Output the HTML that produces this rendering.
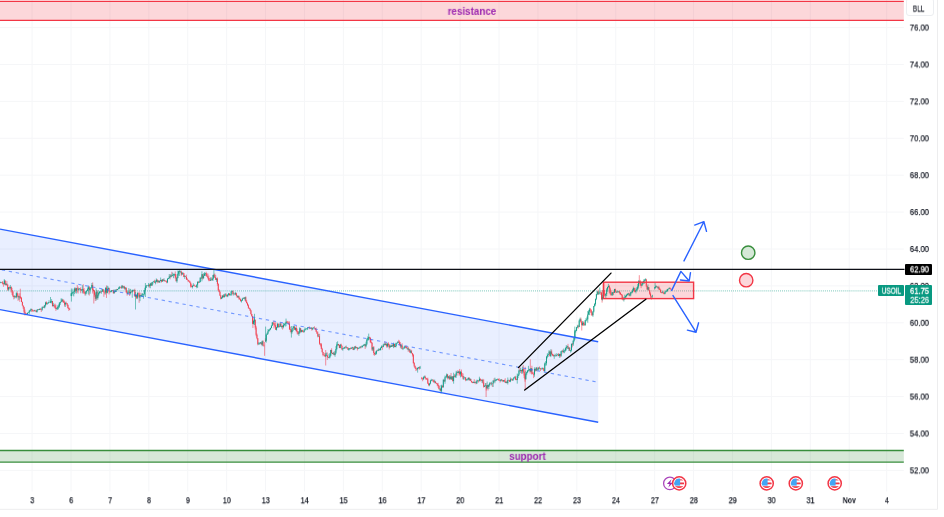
<!DOCTYPE html><html><head><meta charset="utf-8"><title>USOIL chart</title><style>
html,body{margin:0;padding:0;background:#fff;}
body{width:944px;height:517px;position:relative;overflow:hidden;font-family:"Liberation Sans",sans-serif;}
.t{position:absolute;left:0;top:0;white-space:nowrap;line-height:1;transform-origin:0 0;will-change:transform;}
.box{position:absolute;border-radius:1px;}
</style></head><body>
<svg width="944" height="517" viewBox="0 0 944 517" style="position:absolute;left:0;top:0">
<line x1="32.10" y1="0" x2="32.10" y2="491.5" stroke="#f5f6f8" stroke-width="1"/>
<line x1="71.01" y1="0" x2="71.01" y2="491.5" stroke="#f5f6f8" stroke-width="1"/>
<line x1="109.92" y1="0" x2="109.92" y2="491.5" stroke="#f5f6f8" stroke-width="1"/>
<line x1="148.83" y1="0" x2="148.83" y2="491.5" stroke="#f5f6f8" stroke-width="1"/>
<line x1="187.74" y1="0" x2="187.74" y2="491.5" stroke="#f5f6f8" stroke-width="1"/>
<line x1="226.65" y1="0" x2="226.65" y2="491.5" stroke="#f5f6f8" stroke-width="1"/>
<line x1="265.56" y1="0" x2="265.56" y2="491.5" stroke="#f5f6f8" stroke-width="1"/>
<line x1="304.47" y1="0" x2="304.47" y2="491.5" stroke="#f5f6f8" stroke-width="1"/>
<line x1="343.38" y1="0" x2="343.38" y2="491.5" stroke="#f5f6f8" stroke-width="1"/>
<line x1="382.29" y1="0" x2="382.29" y2="491.5" stroke="#f5f6f8" stroke-width="1"/>
<line x1="421.20" y1="0" x2="421.20" y2="491.5" stroke="#f5f6f8" stroke-width="1"/>
<line x1="460.11" y1="0" x2="460.11" y2="491.5" stroke="#f5f6f8" stroke-width="1"/>
<line x1="499.02" y1="0" x2="499.02" y2="491.5" stroke="#f5f6f8" stroke-width="1"/>
<line x1="537.93" y1="0" x2="537.93" y2="491.5" stroke="#f5f6f8" stroke-width="1"/>
<line x1="576.84" y1="0" x2="576.84" y2="491.5" stroke="#f5f6f8" stroke-width="1"/>
<line x1="615.75" y1="0" x2="615.75" y2="491.5" stroke="#f5f6f8" stroke-width="1"/>
<line x1="654.66" y1="0" x2="654.66" y2="491.5" stroke="#f5f6f8" stroke-width="1"/>
<line x1="693.57" y1="0" x2="693.57" y2="491.5" stroke="#f5f6f8" stroke-width="1"/>
<line x1="732.48" y1="0" x2="732.48" y2="491.5" stroke="#f5f6f8" stroke-width="1"/>
<line x1="771.39" y1="0" x2="771.39" y2="491.5" stroke="#f5f6f8" stroke-width="1"/>
<line x1="810.30" y1="0" x2="810.30" y2="491.5" stroke="#f5f6f8" stroke-width="1"/>
<line x1="849.21" y1="0" x2="849.21" y2="491.5" stroke="#f5f6f8" stroke-width="1"/>
<line x1="886.70" y1="0" x2="886.70" y2="491.5" stroke="#f5f6f8" stroke-width="1"/>
<line x1="0" y1="470.40" x2="903.8" y2="470.40" stroke="#f5f6f8" stroke-width="1"/>
<line x1="0" y1="433.50" x2="903.8" y2="433.50" stroke="#f5f6f8" stroke-width="1"/>
<line x1="0" y1="396.60" x2="903.8" y2="396.60" stroke="#f5f6f8" stroke-width="1"/>
<line x1="0" y1="359.70" x2="903.8" y2="359.70" stroke="#f5f6f8" stroke-width="1"/>
<line x1="0" y1="322.80" x2="903.8" y2="322.80" stroke="#f5f6f8" stroke-width="1"/>
<line x1="0" y1="285.90" x2="903.8" y2="285.90" stroke="#f5f6f8" stroke-width="1"/>
<line x1="0" y1="249.00" x2="903.8" y2="249.00" stroke="#f5f6f8" stroke-width="1"/>
<line x1="0" y1="212.10" x2="903.8" y2="212.10" stroke="#f5f6f8" stroke-width="1"/>
<line x1="0" y1="175.20" x2="903.8" y2="175.20" stroke="#f5f6f8" stroke-width="1"/>
<line x1="0" y1="138.30" x2="903.8" y2="138.30" stroke="#f5f6f8" stroke-width="1"/>
<line x1="0" y1="101.40" x2="903.8" y2="101.40" stroke="#f5f6f8" stroke-width="1"/>
<line x1="0" y1="64.50" x2="903.8" y2="64.50" stroke="#f5f6f8" stroke-width="1"/>
<line x1="0" y1="27.60" x2="903.8" y2="27.60" stroke="#f5f6f8" stroke-width="1"/>
<rect x="-2" y="1.4" width="905.8" height="18.9" fill="#f23645" fill-opacity="0.2"/>
<line x1="0" y1="1.4" x2="903.8" y2="1.4" stroke="#f23645" stroke-width="1.3"/>
<line x1="0" y1="20.3" x2="903.8" y2="20.3" stroke="#f23645" stroke-width="1.3"/>
<rect x="-2" y="450.5" width="905.8" height="11.6" fill="#388e3c" fill-opacity="0.2"/>
<line x1="0" y1="450.5" x2="903.8" y2="450.5" stroke="#388e3c" stroke-width="1.4"/>
<line x1="0" y1="462.1" x2="903.8" y2="462.1" stroke="#388e3c" stroke-width="1.4"/>
<polygon points="0,229.1 598.2,341.74 598.2,422.24 0,309.6" fill="#2962ff" fill-opacity="0.1"/>
<line x1="0" y1="290.8" x2="878" y2="290.8" stroke="#089981" stroke-width="1.3" stroke-dasharray="0.9 1.06" stroke-opacity="0.46"/>
<rect x="603.4" y="282.2" width="90.2" height="16.4" fill="#f23645" fill-opacity="0.2"/>
<path d="M1.72 282.14V283.21M2.58 281.12V284.47M3.44 282.73V286.78M5.16 280.50V285.53M6.88 280.93V285.94M7.74 283.94V290.88M9.46 286.55V289.42M11.18 286.33V292.61M12.04 287.86V294.89M12.90 291.28V297.09M13.76 295.60V299.40M15.48 295.92V297.55M17.20 291.21V297.12M18.06 293.28V300.82M19.78 293.23V301.87M20.64 296.34V298.17M21.50 296.99V302.13M22.36 301.49V305.68M23.22 305.55V308.88M24.08 306.68V313.89M24.94 309.52V315.52M25.80 312.93V314.86M26.66 313.37V314.60M31.82 308.86V311.93M32.68 309.56V311.63M33.54 310.23V311.35M35.26 309.86V311.33M36.12 310.61V312.22M38.70 309.03V309.94M40.42 308.11V309.74M41.28 308.65V312.03M43.86 305.69V307.83M46.44 301.41V304.35M49.88 301.82V302.48M52.46 300.94V306.62M54.18 304.21V307.67M55.04 303.57V308.57M55.90 304.72V310.90M62.78 299.49V302.38M63.64 299.57V302.65M64.50 300.63V306.60M66.22 301.63V304.12M67.08 303.05V306.15M67.94 304.71V308.30M68.80 307.43V310.94M69.66 307.80V309.99M75.50 287.64V292.74M77.22 284.91V292.56M78.08 286.66V293.54M79.80 288.27V288.98M80.66 287.24V293.28M83.24 284.22V293.68M84.10 288.05V293.39M84.96 291.35V295.59M89.26 286.03V295.54M92.70 282.39V293.54M93.56 288.59V291.51M94.42 290.13V296.72M95.28 292.69V301.03M97.00 290.09V299.79M100.44 291.39V292.85M103.02 289.37V292.11M103.88 289.24V296.77M104.74 291.27V294.49M106.46 285.49V297.95M109.04 287.64V294.46M109.90 291.45V293.12M112.48 290.23V290.92M113.34 289.76V293.53M115.06 290.83V292.51M116.78 288.90V290.41M120.22 286.71V287.61M121.08 286.43V288.83M122.80 285.46V288.24M124.52 285.87V289.47M126.24 287.51V292.83M127.10 290.92V295.67M129.68 289.33V296.00M131.40 291.09V292.45M133.12 289.83V291.69M134.84 288.68V296.47M136.56 294.39V299.09M138.28 292.74V296.48M139.14 291.63V302.79M140.86 292.75V296.22M147.74 285.37V285.83M149.46 284.26V287.56M151.18 282.90V285.92M154.62 279.73V283.01M157.20 279.28V283.31M158.92 280.24V283.00M161.50 279.66V282.52M163.22 278.73V281.31M164.94 280.19V281.56M165.80 280.86V281.65M166.66 280.45V283.24M170.10 274.34V279.34M171.82 271.78V276.94M175.26 271.45V278.64M176.12 274.23V281.34M179.56 271.09V272.05M181.28 270.61V276.09M183.00 272.49V274.17M183.86 273.19V277.13M185.58 275.95V277.07M186.44 274.68V279.76M187.30 278.19V279.95M188.16 279.61V282.05M189.02 280.24V281.61M189.88 280.78V283.23M190.74 282.64V287.63M191.60 284.27V287.24M194.18 284.15V286.37M195.04 285.55V286.67M195.90 285.92V287.00M198.48 281.48V283.21M201.06 276.82V278.62M202.78 273.96V279.59M206.22 271.75V276.08M207.08 273.42V277.02M207.94 273.52V279.34M208.80 275.57V281.22M209.66 278.12V281.07M211.38 277.28V280.28M213.96 274.02V277.83M214.82 273.53V277.51M215.68 274.91V280.02M217.40 277.44V285.71M218.26 283.14V290.77M219.12 289.17V292.35M219.98 290.73V296.00M220.84 295.31V299.49M223.42 294.30V297.59M226.00 293.36V296.19M226.86 294.81V296.91M229.44 293.38V295.36M232.88 290.61V295.35M234.60 293.40V294.56M236.32 292.68V296.05M237.18 295.46V297.98M238.90 295.62V299.63M239.76 297.50V299.66M240.62 298.80V301.27M244.06 297.41V299.11M245.78 296.37V301.49M246.64 299.95V303.31M247.50 302.42V305.75M248.36 304.22V308.59M249.22 307.67V309.01M250.08 308.41V310.90M250.94 309.85V314.62M251.80 313.93V316.57M252.66 315.89V324.08M255.24 319.64V329.59M256.10 325.79V336.24M256.96 333.56V339.28M257.82 338.16V345.29M261.26 342.19V344.58M262.98 340.29V346.04M263.84 344.70V346.69M265.40 338.30V341.68M273.14 322.50V324.06M274.00 320.69V328.39M274.86 322.63V326.79M275.72 322.26V329.97M278.30 323.13V327.80M280.88 322.47V326.87M282.60 324.79V329.57M286.90 320.87V323.09M287.76 321.09V323.38M288.62 321.57V324.63M289.48 321.38V329.99M290.34 326.70V332.15M291.20 328.97V333.42M294.64 326.39V329.80M296.36 326.01V332.24M297.22 328.63V334.24M298.08 331.40V334.79M300.66 328.24V332.44M302.38 329.82V331.82M303.24 331.00V332.36M309.26 326.34V329.24M310.12 327.90V328.73M311.84 327.21V330.67M314.42 326.26V328.38M315.28 328.24V329.98M316.14 327.47V331.72M317.00 331.18V333.88M317.86 331.65V337.38M319.58 333.79V344.91M320.44 343.34V346.46M321.30 342.99V349.18M322.16 347.81V352.57M323.02 351.89V356.39M323.88 354.39V355.40M324.74 352.91V356.97M327.32 352.46V359.96M328.18 356.72V357.92M331.62 348.25V353.55M332.48 352.79V354.05M334.20 351.40V355.45M338.50 343.97V345.86M339.36 344.79V348.14M341.08 343.63V345.99M341.94 345.36V350.06M345.38 345.98V348.35M347.10 347.12V348.22M347.96 347.18V349.68M350.54 347.46V349.25M353.12 346.87V350.07M355.70 345.77V348.43M357.42 347.25V350.49M360.86 345.97V348.51M365.16 344.02V349.03M369.46 336.74V339.35M370.32 336.95V343.04M371.18 339.16V343.50M372.04 342.42V350.84M373.76 346.00V355.19M374.62 352.50V355.75M377.20 349.80V351.42M379.78 348.92V350.18M382.36 346.31V349.84M384.94 341.52V345.78M386.66 343.55V347.62M388.38 342.24V346.88M389.24 343.84V349.44M390.96 345.67V347.00M392.68 344.05V346.48M394.40 343.73V347.37M398.70 339.79V342.79M399.56 340.64V345.50M400.42 342.10V348.15M402.14 343.28V349.40M405.58 346.07V348.07M406.44 345.71V348.24M408.16 346.65V351.75M409.88 349.18V352.62M411.60 349.80V353.35M412.46 352.94V356.52M413.32 353.89V363.73M414.18 362.08V367.26M415.04 365.70V368.64M415.90 367.32V371.07M416.76 368.38V370.43M419.34 366.43V369.64M421.80 376.97V379.55M422.66 377.91V381.24M425.24 375.58V379.31M426.10 377.72V380.06M426.96 378.18V379.86M427.82 377.67V383.89M428.68 382.74V386.18M432.98 379.21V381.92M433.84 380.17V382.96M435.56 381.43V383.45M436.42 382.63V383.98M437.28 383.29V386.24M438.14 382.84V387.89M439.00 385.03V389.32M440.72 388.31V391.25M442.44 385.16V387.63M444.16 379.39V381.66M447.60 374.04V379.40M449.32 375.09V380.04M451.04 372.97V379.82M452.76 376.07V381.63M454.48 374.27V377.35M457.92 369.98V375.59M459.64 368.95V375.67M461.36 369.54V376.91M462.22 372.94V376.99M463.08 373.50V379.52M465.66 377.32V381.21M469.10 377.28V380.98M470.82 378.76V381.25M471.68 381.01V383.01M472.54 381.88V383.16M474.26 379.23V383.48M475.98 380.56V384.31M478.56 380.11V382.56M480.28 378.52V381.52M481.14 379.17V380.98M482.86 378.84V383.64M483.72 379.33V387.72M486.30 385.14V390.57M488.02 384.92V390.50M490.60 382.39V384.11M492.32 383.00V386.93M494.04 378.34V382.36M498.34 378.72V380.76M499.20 378.21V380.59M500.06 380.27V382.60M501.78 379.23V380.61M502.64 380.31V382.11M504.36 379.69V381.72M505.22 378.29V382.93M506.94 380.50V383.41M508.66 379.65V380.73M509.52 380.29V381.97M511.24 378.07V380.27M512.10 379.47V380.74M515.54 375.82V380.13M516.40 378.75V380.24M519.84 366.70V371.85M521.56 369.86V373.75M523.28 365.08V373.15M524.14 368.95V378.09M525.00 373.93V381.70M530.16 368.92V373.57M531.88 365.75V374.73M532.74 371.86V374.05M533.60 372.49V378.11M535.32 368.52V371.54M537.04 366.91V371.15M539.62 366.40V369.15M540.48 368.04V371.08M543.06 367.84V369.60M543.92 367.76V371.24M549.94 351.08V356.55M551.66 349.57V354.62M552.52 353.61V356.06M553.38 354.18V356.78M555.96 354.38V356.26M558.54 353.08V356.14M560.26 353.76V357.53M562.84 349.58V353.42M568.00 343.87V348.78M569.72 347.32V350.76M572.30 343.19V347.40M578.32 324.83V328.58M580.90 317.59V322.70M581.76 320.76V330.51M583.48 321.44V325.82M584.34 322.43V325.69M590.36 307.97V312.67M591.22 309.20V315.32M592.08 312.55V315.91M598.10 289.51V295.02M600.68 291.45V294.92M601.54 292.08V299.78M604.12 289.98V296.04M604.98 293.69V296.65M609.28 284.98V293.40M610.14 287.34V294.37M611.00 290.46V295.95M613.58 291.43V295.00M615.30 288.63V292.45M616.16 291.68V292.95M617.88 291.31V292.47M619.60 290.65V294.42M620.46 292.31V294.89M621.32 293.80V295.47M622.18 294.29V299.95M623.04 297.15V300.57M629.06 292.66V295.86M634.22 287.59V292.27M635.08 289.40V292.18M640.24 279.92V285.94M641.10 282.59V288.14M646.26 278.80V287.15M647.12 285.77V289.73M648.84 287.06V290.47M649.70 290.16V294.84M650.56 292.41V298.26M651.42 296.10V299.55M657.18 286.30V287.45M658.90 285.81V290.04M659.76 287.92V290.04M660.62 289.49V292.92M661.48 292.15V293.31M663.20 291.14V293.62M664.06 293.15V294.33M670.08 287.34V289.40M670.94 288.63V289.62M20.30 288.70V299.00M93.80 290.00V303.50M252.90 318.00V328.00M264.60 342.00V355.80M325.70 350.00V365.50M486.10 383.00V397.00M525.20 366.80V389.60M530.30 359.30V372.00M602.10 290.00V302.60M604.00 282.90V294.00M639.30 275.20V284.00" stroke="#f23645" stroke-width="0.55" fill="none"/>
<path d="M1.29 282.17h0.86V282.62h-0.86zM2.15 282.62h0.86V283.51h-0.86zM3.01 283.51h0.86V283.91h-0.86zM4.73 280.58h0.86V284.65h-0.86zM6.45 283.85h0.86V284.99h-0.86zM7.31 284.99h0.86V289.62h-0.86zM9.03 287.31h0.86V287.79h-0.86zM10.75 287.05h0.86V290.08h-0.86zM11.61 290.08h0.86V291.46h-0.86zM12.47 291.46h0.86V295.70h-0.86zM13.33 295.70h0.86V296.91h-0.86zM15.05 296.53h0.86V297.35h-0.86zM16.77 293.36h0.86V295.47h-0.86zM17.63 295.47h0.86V297.37h-0.86zM19.35 296.46h0.86V297.59h-0.86zM20.21 297.59h0.86V297.99h-0.86zM21.07 297.99h0.86V301.88h-0.86zM21.93 301.88h0.86V305.57h-0.86zM22.79 305.57h0.86V307.19h-0.86zM23.65 307.19h0.86V311.85h-0.86zM24.51 311.85h0.86V313.41h-0.86zM25.37 313.41h0.86V313.81h-0.86zM26.23 313.81h0.86V314.48h-0.86zM31.39 309.16h0.86V310.33h-0.86zM32.25 310.33h0.86V310.73h-0.86zM33.11 310.73h0.86V311.13h-0.86zM34.83 310.47h0.86V310.87h-0.86zM35.69 310.87h0.86V311.88h-0.86zM38.27 309.35h0.86V309.75h-0.86zM39.99 309.05h0.86V309.45h-0.86zM40.85 309.45h0.86V309.85h-0.86zM43.43 307.05h0.86V307.55h-0.86zM46.01 302.60h0.86V304.21h-0.86zM49.45 301.97h0.86V302.37h-0.86zM52.03 301.10h0.86V306.10h-0.86zM53.75 305.20h0.86V305.60h-0.86zM54.61 305.60h0.86V307.28h-0.86zM55.47 307.28h0.86V309.07h-0.86zM62.35 299.50h0.86V301.30h-0.86zM63.21 301.30h0.86V302.57h-0.86zM64.07 302.57h0.86V304.50h-0.86zM65.79 302.96h0.86V303.36h-0.86zM66.65 303.36h0.86V304.76h-0.86zM67.51 304.76h0.86V308.19h-0.86zM68.37 308.19h0.86V308.88h-0.86zM69.23 308.88h0.86V309.59h-0.86zM75.07 288.41h0.86V290.68h-0.86zM76.79 288.32h0.86V289.21h-0.86zM77.65 289.21h0.86V289.95h-0.86zM79.37 288.55h0.86V288.94h-0.86zM80.23 288.94h0.86V290.22h-0.86zM82.81 289.06h0.86V291.83h-0.86zM83.67 291.83h0.86V293.15h-0.86zM84.53 293.15h0.86V293.78h-0.86zM88.83 287.31h0.86V290.36h-0.86zM92.27 285.04h0.86V289.92h-0.86zM93.13 289.92h0.86V290.92h-0.86zM93.99 290.92h0.86V294.77h-0.86zM94.85 294.77h0.86V298.64h-0.86zM96.57 291.71h0.86V298.04h-0.86zM100.01 291.81h0.86V292.21h-0.86zM102.59 289.37h0.86V291.76h-0.86zM103.45 291.76h0.86V292.16h-0.86zM104.31 292.16h0.86V292.56h-0.86zM106.03 287.66h0.86V292.69h-0.86zM108.61 288.00h0.86V291.49h-0.86zM109.47 291.49h0.86V291.93h-0.86zM112.05 290.35h0.86V290.75h-0.86zM112.91 290.75h0.86V293.36h-0.86zM114.63 291.50h0.86V291.90h-0.86zM116.35 289.58h0.86V289.98h-0.86zM119.79 287.16h0.86V287.56h-0.86zM120.65 287.56h0.86V287.96h-0.86zM122.37 285.86h0.86V287.30h-0.86zM124.09 286.81h0.86V288.52h-0.86zM125.81 287.72h0.86V292.23h-0.86zM126.67 292.23h0.86V293.48h-0.86zM129.25 291.69h0.86V293.13h-0.86zM130.97 291.88h0.86V292.28h-0.86zM132.69 289.91h0.86V290.31h-0.86zM134.41 289.91h0.86V296.40h-0.86zM136.13 294.98h0.86V297.65h-0.86zM137.85 292.97h0.86V293.37h-0.86zM138.71 293.37h0.86V297.54h-0.86zM140.43 294.89h0.86V295.79h-0.86zM147.31 285.40h0.86V285.78h-0.86zM149.03 284.71h0.86V285.68h-0.86zM150.75 283.62h0.86V285.47h-0.86zM154.19 281.53h0.86V282.50h-0.86zM156.77 279.72h0.86V281.87h-0.86zM158.49 280.87h0.86V282.30h-0.86zM161.07 280.02h0.86V281.42h-0.86zM162.79 279.61h0.86V280.73h-0.86zM164.51 280.33h0.86V281.19h-0.86zM165.37 281.19h0.86V281.59h-0.86zM166.23 281.59h0.86V282.27h-0.86zM169.67 276.39h0.86V277.16h-0.86zM171.39 275.29h0.86V275.70h-0.86zM174.83 273.96h0.86V277.40h-0.86zM175.69 277.40h0.86V281.33h-0.86zM179.13 271.22h0.86V271.83h-0.86zM180.85 271.43h0.86V274.57h-0.86zM182.57 272.79h0.86V273.36h-0.86zM183.43 273.36h0.86V277.00h-0.86zM185.15 276.60h0.86V276.96h-0.86zM186.01 276.96h0.86V279.54h-0.86zM186.87 279.54h0.86V279.94h-0.86zM187.73 279.94h0.86V281.03h-0.86zM188.59 281.03h0.86V281.43h-0.86zM189.45 281.43h0.86V282.71h-0.86zM190.31 282.71h0.86V286.56h-0.86zM191.17 286.56h0.86V286.96h-0.86zM193.75 285.31h0.86V285.71h-0.86zM194.61 285.71h0.86V286.11h-0.86zM195.47 286.11h0.86V286.77h-0.86zM198.05 281.81h0.86V282.38h-0.86zM200.63 278.03h0.86V278.60h-0.86zM202.35 274.33h0.86V278.23h-0.86zM205.79 273.27h0.86V275.79h-0.86zM206.65 275.79h0.86V276.64h-0.86zM207.51 276.64h0.86V278.05h-0.86zM208.37 278.05h0.86V280.13h-0.86zM209.23 280.13h0.86V280.53h-0.86zM210.95 279.80h0.86V280.22h-0.86zM213.53 275.02h0.86V276.97h-0.86zM214.39 276.97h0.86V277.37h-0.86zM215.25 277.37h0.86V279.82h-0.86zM216.97 278.60h0.86V284.02h-0.86zM217.83 284.02h0.86V290.30h-0.86zM218.69 290.30h0.86V291.99h-0.86zM219.55 291.99h0.86V295.57h-0.86zM220.41 295.57h0.86V298.71h-0.86zM222.99 295.51h0.86V296.90h-0.86zM225.57 294.61h0.86V295.05h-0.86zM226.43 295.05h0.86V296.20h-0.86zM229.01 293.44h0.86V295.15h-0.86zM232.45 291.05h0.86V294.04h-0.86zM234.17 293.64h0.86V294.14h-0.86zM235.89 293.16h0.86V295.68h-0.86zM236.75 295.68h0.86V297.25h-0.86zM238.47 296.32h0.86V298.29h-0.86zM239.33 298.29h0.86V299.15h-0.86zM240.19 299.15h0.86V301.16h-0.86zM243.63 298.24h0.86V298.86h-0.86zM245.35 297.33h0.86V301.47h-0.86zM246.21 301.47h0.86V303.28h-0.86zM247.07 303.28h0.86V305.14h-0.86zM247.93 305.14h0.86V307.76h-0.86zM248.79 307.76h0.86V308.86h-0.86zM249.65 308.86h0.86V310.54h-0.86zM250.51 310.54h0.86V313.95h-0.86zM251.37 313.95h0.86V316.31h-0.86zM252.23 316.31h0.86V323.87h-0.86zM254.81 319.82h0.86V327.44h-0.86zM255.67 327.44h0.86V334.84h-0.86zM256.53 334.84h0.86V338.34h-0.86zM257.39 338.34h0.86V344.28h-0.86zM260.83 342.42h0.86V344.41h-0.86zM262.55 341.29h0.86V345.13h-0.86zM263.41 345.13h0.86V345.53h-0.86zM264.97 340.00h0.86V340.83h-0.86zM272.71 322.53h0.86V323.39h-0.86zM273.57 323.39h0.86V325.01h-0.86zM274.43 325.01h0.86V325.52h-0.86zM275.29 325.52h0.86V329.80h-0.86zM277.87 323.89h0.86V326.97h-0.86zM280.45 323.61h0.86V326.83h-0.86zM282.17 325.97h0.86V327.07h-0.86zM286.47 321.82h0.86V322.79h-0.86zM287.33 322.79h0.86V323.27h-0.86zM288.19 323.27h0.86V323.67h-0.86zM289.05 323.67h0.86V329.27h-0.86zM289.91 329.27h0.86V329.77h-0.86zM290.77 329.77h0.86V332.08h-0.86zM294.21 326.52h0.86V329.78h-0.86zM295.93 328.09h0.86V331.04h-0.86zM296.79 331.04h0.86V331.44h-0.86zM297.65 331.44h0.86V333.77h-0.86zM300.23 328.33h0.86V331.75h-0.86zM301.95 330.32h0.86V331.80h-0.86zM302.81 331.80h0.86V332.20h-0.86zM308.83 327.43h0.86V327.96h-0.86zM309.69 327.96h0.86V328.36h-0.86zM311.41 327.74h0.86V329.21h-0.86zM313.99 327.87h0.86V328.27h-0.86zM314.85 328.27h0.86V329.40h-0.86zM315.71 329.40h0.86V331.70h-0.86zM316.57 331.70h0.86V333.39h-0.86zM317.43 333.39h0.86V336.55h-0.86zM319.15 336.15h0.86V343.71h-0.86zM320.01 343.71h0.86V344.15h-0.86zM320.87 344.15h0.86V348.66h-0.86zM321.73 348.66h0.86V352.04h-0.86zM322.59 352.04h0.86V354.90h-0.86zM323.45 354.90h0.86V355.30h-0.86zM324.31 355.30h0.86V356.01h-0.86zM326.89 355.15h0.86V357.02h-0.86zM327.75 357.02h0.86V357.68h-0.86zM331.19 350.00h0.86V353.11h-0.86zM332.05 353.11h0.86V353.88h-0.86zM333.77 353.48h0.86V354.97h-0.86zM338.07 344.05h0.86V344.96h-0.86zM338.93 344.96h0.86V348.12h-0.86zM340.65 344.46h0.86V345.97h-0.86zM341.51 345.97h0.86V349.37h-0.86zM344.95 347.22h0.86V347.62h-0.86zM346.67 347.22h0.86V348.06h-0.86zM347.53 348.06h0.86V349.67h-0.86zM350.11 348.11h0.86V348.51h-0.86zM352.69 347.37h0.86V349.63h-0.86zM355.27 346.57h0.86V347.90h-0.86zM356.99 347.48h0.86V348.65h-0.86zM360.43 346.83h0.86V347.23h-0.86zM364.73 344.52h0.86V346.19h-0.86zM369.03 337.51h0.86V337.98h-0.86zM369.89 337.98h0.86V342.04h-0.86zM370.75 342.04h0.86V342.67h-0.86zM371.61 342.67h0.86V349.47h-0.86zM373.33 347.30h0.86V353.12h-0.86zM374.19 353.12h0.86V354.28h-0.86zM376.77 350.71h0.86V351.11h-0.86zM379.35 349.31h0.86V349.99h-0.86zM381.93 346.46h0.86V347.00h-0.86zM384.51 343.67h0.86V344.88h-0.86zM386.23 343.80h0.86V346.19h-0.86zM387.95 343.70h0.86V345.27h-0.86zM388.81 345.27h0.86V347.59h-0.86zM390.53 345.71h0.86V346.92h-0.86zM392.25 345.31h0.86V346.32h-0.86zM393.97 343.98h0.86V347.04h-0.86zM398.27 341.85h0.86V342.39h-0.86zM399.13 342.39h0.86V344.30h-0.86zM399.99 344.30h0.86V346.52h-0.86zM401.71 345.51h0.86V348.80h-0.86zM405.15 346.55h0.86V347.21h-0.86zM406.01 347.21h0.86V348.22h-0.86zM407.73 347.82h0.86V349.77h-0.86zM409.45 349.37h0.86V352.41h-0.86zM411.17 351.23h0.86V353.18h-0.86zM412.03 353.18h0.86V354.66h-0.86zM412.89 354.66h0.86V362.96h-0.86zM413.75 362.96h0.86V365.81h-0.86zM414.61 365.81h0.86V367.82h-0.86zM415.47 367.82h0.86V368.95h-0.86zM416.33 368.95h0.86V369.35h-0.86zM418.91 367.35h0.86V368.18h-0.86zM421.37 377.80h0.86V378.75h-0.86zM422.23 378.75h0.86V379.15h-0.86zM424.81 376.68h0.86V378.07h-0.86zM425.67 378.07h0.86V378.62h-0.86zM426.53 378.62h0.86V379.35h-0.86zM427.39 379.35h0.86V383.49h-0.86zM428.25 383.49h0.86V384.91h-0.86zM432.55 379.70h0.86V380.70h-0.86zM433.41 380.70h0.86V381.98h-0.86zM435.13 381.57h0.86V383.05h-0.86zM435.99 383.05h0.86V383.44h-0.86zM436.85 383.44h0.86V384.72h-0.86zM437.71 384.72h0.86V386.09h-0.86zM438.57 386.09h0.86V389.19h-0.86zM440.29 388.79h0.86V390.87h-0.86zM442.01 386.30h0.86V387.18h-0.86zM443.73 379.95h0.86V381.39h-0.86zM447.17 374.60h0.86V377.87h-0.86zM448.89 376.55h0.86V378.66h-0.86zM450.61 376.72h0.86V379.37h-0.86zM452.33 376.48h0.86V380.96h-0.86zM454.05 376.17h0.86V376.74h-0.86zM457.49 371.65h0.86V373.07h-0.86zM459.21 371.48h0.86V374.27h-0.86zM460.93 371.82h0.86V375.64h-0.86zM461.79 375.64h0.86V376.04h-0.86zM462.65 376.04h0.86V378.45h-0.86zM465.23 377.58h0.86V380.25h-0.86zM468.67 377.87h0.86V379.71h-0.86zM470.39 378.92h0.86V381.03h-0.86zM471.25 381.03h0.86V382.00h-0.86zM472.11 382.00h0.86V382.65h-0.86zM473.83 381.91h0.86V382.90h-0.86zM475.55 382.50h0.86V383.33h-0.86zM478.13 380.46h0.86V380.86h-0.86zM479.85 378.81h0.86V380.29h-0.86zM480.71 380.29h0.86V380.69h-0.86zM482.43 380.12h0.86V382.62h-0.86zM483.29 382.62h0.86V386.66h-0.86zM485.87 385.68h0.86V388.27h-0.86zM487.59 385.03h0.86V386.95h-0.86zM490.17 383.16h0.86V383.56h-0.86zM491.89 383.18h0.86V383.58h-0.86zM493.61 380.67h0.86V381.32h-0.86zM497.91 378.97h0.86V379.65h-0.86zM498.77 379.65h0.86V380.49h-0.86zM499.63 380.49h0.86V380.89h-0.86zM501.35 379.59h0.86V380.35h-0.86zM502.21 380.35h0.86V381.05h-0.86zM503.93 380.37h0.86V381.47h-0.86zM504.79 381.47h0.86V382.75h-0.86zM506.51 381.85h0.86V382.90h-0.86zM508.23 379.92h0.86V380.31h-0.86zM509.09 380.31h0.86V381.40h-0.86zM510.81 379.22h0.86V379.62h-0.86zM511.67 379.62h0.86V380.17h-0.86zM515.11 377.16h0.86V379.54h-0.86zM515.97 379.54h0.86V379.94h-0.86zM519.41 370.53h0.86V370.96h-0.86zM521.13 369.94h0.86V371.26h-0.86zM522.85 369.11h0.86V371.65h-0.86zM523.71 371.65h0.86V375.61h-0.86zM524.57 375.61h0.86V379.23h-0.86zM529.73 369.25h0.86V371.19h-0.86zM531.45 368.30h0.86V373.65h-0.86zM532.31 373.65h0.86V374.05h-0.86zM533.17 374.05h0.86V374.45h-0.86zM534.89 369.06h0.86V370.57h-0.86zM536.61 367.84h0.86V369.45h-0.86zM539.19 367.81h0.86V368.28h-0.86zM540.05 368.28h0.86V368.82h-0.86zM542.63 368.02h0.86V369.59h-0.86zM543.49 369.59h0.86V370.89h-0.86zM549.51 351.54h0.86V355.94h-0.86zM551.23 351.38h0.86V354.23h-0.86zM552.09 354.23h0.86V355.21h-0.86zM552.95 355.21h0.86V356.09h-0.86zM555.53 355.19h0.86V355.85h-0.86zM558.11 354.55h0.86V356.02h-0.86zM559.83 353.90h0.86V355.63h-0.86zM562.41 350.75h0.86V352.05h-0.86zM567.57 346.34h0.86V348.68h-0.86zM569.29 347.72h0.86V350.66h-0.86zM571.87 343.83h0.86V344.42h-0.86zM577.89 326.60h0.86V327.00h-0.86zM580.47 319.21h0.86V322.00h-0.86zM581.33 322.00h0.86V325.30h-0.86zM583.05 322.81h0.86V324.56h-0.86zM583.91 324.56h0.86V324.96h-0.86zM589.93 309.57h0.86V310.22h-0.86zM590.79 310.22h0.86V312.74h-0.86zM591.65 312.74h0.86V315.14h-0.86zM597.67 291.42h0.86V293.87h-0.86zM600.25 292.47h0.86V292.87h-0.86zM601.11 292.87h0.86V299.15h-0.86zM603.69 290.28h0.86V294.50h-0.86zM604.55 294.50h0.86V295.59h-0.86zM608.85 286.12h0.86V288.51h-0.86zM609.71 288.51h0.86V292.86h-0.86zM610.57 292.86h0.86V294.96h-0.86zM613.15 292.32h0.86V292.72h-0.86zM614.87 289.11h0.86V291.85h-0.86zM615.73 291.85h0.86V292.40h-0.86zM617.45 291.56h0.86V291.96h-0.86zM619.17 291.52h0.86V292.69h-0.86zM620.03 292.69h0.86V294.31h-0.86zM620.89 294.31h0.86V295.19h-0.86zM621.75 295.19h0.86V299.01h-0.86zM622.61 299.01h0.86V299.41h-0.86zM628.63 293.58h0.86V295.61h-0.86zM633.79 288.03h0.86V291.21h-0.86zM634.65 291.21h0.86V291.85h-0.86zM639.81 281.14h0.86V285.24h-0.86zM640.67 285.24h0.86V285.80h-0.86zM645.83 279.39h0.86V285.79h-0.86zM646.69 285.79h0.86V289.51h-0.86zM648.41 287.37h0.86V290.44h-0.86zM649.27 290.44h0.86V293.78h-0.86zM650.13 293.78h0.86V296.15h-0.86zM650.99 296.15h0.86V296.55h-0.86zM656.75 286.53h0.86V287.43h-0.86zM658.47 287.07h0.86V288.65h-0.86zM659.33 288.65h0.86V289.83h-0.86zM660.19 289.83h0.86V292.35h-0.86zM661.05 292.35h0.86V292.81h-0.86zM662.77 292.22h0.86V293.52h-0.86zM663.63 293.52h0.86V293.92h-0.86zM669.65 288.01h0.86V288.82h-0.86zM670.51 288.82h0.86V289.43h-0.86z" fill="#f23645"/>
<path d="M0.00 281.70V283.38M0.86 281.77V283.00M4.30 279.07V284.70M6.02 283.32V285.32M8.60 287.13V290.70M10.32 284.98V289.16M14.62 295.40V298.52M16.34 292.32V298.39M18.92 296.05V299.82M27.52 312.39V314.57M28.38 312.51V312.99M29.24 310.37V314.32M30.10 309.58V311.64M30.96 308.35V311.55M34.40 309.85V311.14M36.98 309.74V312.62M37.84 309.04V310.65M39.56 308.52V309.98M42.14 306.65V310.78M43.00 306.28V308.14M44.72 304.83V308.42M45.58 301.73V306.49M47.30 303.41V304.36M48.16 302.26V303.60M49.02 300.20V302.99M50.74 301.21V303.20M51.60 299.14V303.38M53.32 302.79V306.54M56.76 307.79V309.59M57.62 305.43V309.90M58.48 304.52V309.26M59.34 302.21V307.78M60.20 301.93V305.02M61.06 298.41V302.59M61.92 298.44V301.81M65.36 301.82V306.94M71.20 293.18V296.20M72.06 291.69V294.03M72.92 288.63V295.66M73.78 291.38V296.43M74.64 287.45V294.05M76.36 287.84V293.58M78.94 287.88V290.72M81.52 289.12V290.81M82.38 285.18V293.34M85.82 291.05V295.43M86.68 290.42V293.66M87.54 287.44V291.01M88.40 285.62V294.56M90.12 287.43V293.73M90.98 287.24V289.43M91.84 282.97V288.03M96.14 288.30V300.62M97.86 290.52V299.54M98.72 292.03V296.30M99.58 290.90V293.83M101.30 291.28V293.86M102.16 289.37V291.60M105.60 287.54V294.42M107.32 285.74V293.45M108.18 286.47V289.94M110.76 290.75V292.24M111.62 290.32V292.20M114.20 289.42V293.63M115.92 289.57V291.98M117.64 288.93V290.17M118.50 287.26V289.21M119.36 286.10V289.15M121.94 284.96V288.90M123.66 286.07V288.54M125.38 287.21V289.88M127.96 290.36V294.45M128.82 288.12V292.45M130.54 288.89V294.45M132.26 289.56V297.72M133.98 289.41V290.93M135.70 294.69V296.53M137.42 292.22V299.13M140.00 294.74V301.12M141.72 293.62V297.09M142.58 293.05V296.88M143.44 293.88V298.76M144.30 289.91V295.58M145.16 287.44V290.41M146.02 285.02V288.11M146.88 284.93V286.44M148.60 282.99V287.28M150.32 282.78V288.26M152.04 282.02V285.86M152.90 281.46V284.39M153.76 280.82V282.25M155.48 280.57V284.33M156.34 278.36V282.18M158.06 280.41V282.46M159.78 280.57V282.93M160.64 277.56V281.07M162.36 279.27V281.75M164.08 278.40V281.20M167.52 278.39V283.13M168.38 277.93V279.15M169.24 274.07V278.85M170.96 274.13V277.18M172.68 272.61V276.08M173.54 273.71V278.18M174.40 273.63V276.01M176.98 276.93V282.84M177.84 270.56V278.34M178.70 271.07V275.47M180.42 270.65V272.84M182.14 272.36V274.94M184.72 275.02V278.92M192.46 285.57V288.46M193.32 283.18V286.42M196.76 284.40V288.27M197.62 281.47V287.84M199.34 280.67V282.64M200.20 277.03V282.42M201.92 271.32V281.36M203.64 273.18V278.67M204.50 272.21V275.93M205.36 272.79V275.75M210.52 277.42V281.02M212.24 277.99V280.53M213.10 274.84V280.75M216.54 278.31V281.85M221.70 297.05V298.94M222.56 295.49V298.13M224.28 294.00V297.75M225.14 293.22V296.80M227.72 294.11V297.18M228.58 292.98V295.58M230.30 294.28V295.17M231.16 291.13V295.94M232.02 290.24V291.63M233.74 292.25V295.49M235.46 292.10V294.97M238.04 295.47V297.29M241.48 299.93V302.52M242.34 298.21V300.85M243.20 297.27V298.89M244.92 296.94V300.59M253.52 320.57V324.52M254.38 318.14V322.38M258.68 342.32V344.57M259.54 342.46V344.58M260.40 342.08V343.47M262.12 340.64V346.26M266.26 334.31V342.61M267.12 332.63V334.83M267.98 329.02V334.37M268.84 329.42V331.38M269.70 328.52V331.21M270.56 327.69V329.54M271.42 325.27V328.29M272.28 322.09V325.71M276.58 326.96V330.52M277.44 322.79V327.83M279.16 326.16V327.64M280.02 323.57V326.71M281.74 325.78V328.44M283.46 322.93V328.27M284.32 323.37V325.84M285.18 322.52V326.53M286.04 318.58V326.21M292.06 330.40V333.55M292.92 326.10V331.29M293.78 325.94V328.44M295.50 327.41V330.58M298.94 331.26V335.94M299.80 327.18V333.53M301.52 329.79V332.43M304.10 329.54V332.22M304.96 327.44V330.42M305.82 328.43V330.39M306.68 328.27V329.30M307.54 327.20V330.06M308.40 327.41V327.92M310.98 327.51V329.04M312.70 327.66V330.02M313.56 327.25V328.37M318.72 334.14V336.81M325.60 353.35V356.97M326.46 352.64V356.07M329.04 353.74V358.42M329.90 353.04V358.30M330.76 349.81V356.21M333.34 352.01V354.95M335.06 350.70V356.79M335.92 346.14V353.91M336.78 342.15V350.22M337.64 341.25V346.26M340.22 344.40V348.29M342.80 348.10V350.73M343.66 347.64V348.65M344.52 346.89V348.99M346.24 345.60V348.59M348.82 348.08V350.75M349.68 348.09V349.81M351.40 347.74V349.06M352.26 346.78V348.47M353.98 348.14V350.13M354.84 346.28V349.28M356.56 347.20V348.42M358.28 347.55V349.17M359.14 347.70V348.81M360.00 346.55V348.19M361.72 345.55V347.23M362.58 345.55V347.56M363.44 344.47V346.19M364.30 343.85V345.84M366.02 341.70V347.45M366.88 338.58V345.04M367.74 336.37V340.74M368.60 337.06V340.36M372.90 347.05V351.17M375.48 351.63V354.85M376.34 350.55V354.60M378.06 349.27V351.16M378.92 348.01V350.68M380.64 346.88V350.61M381.50 345.41V348.06M383.22 344.50V347.38M384.08 343.52V345.26M385.80 343.00V345.21M387.52 343.15V347.43M390.10 344.55V347.62M391.82 344.35V346.95M393.54 342.64V348.11M395.26 343.60V347.18M396.12 342.51V347.38M396.98 342.92V343.85M397.84 341.32V343.34M401.28 344.26V348.74M403.00 348.34V350.09M403.86 346.64V348.48M404.72 345.66V348.74M407.30 347.72V349.73M409.02 348.48V351.29M410.74 350.07V353.38M417.62 367.73V372.61M418.48 367.07V368.79M420.20 365.92V368.66M423.52 376.41V379.68M424.38 375.62V378.23M429.54 383.29V386.17M430.40 379.89V384.36M431.26 378.80V381.34M432.12 379.56V380.58M434.70 379.59V383.27M439.86 388.71V390.81M441.58 384.70V392.91M443.30 378.84V387.68M445.02 375.56V383.78M445.88 376.16V377.41M446.74 373.41V378.24M448.46 376.15V378.67M450.18 375.34V379.44M451.90 376.33V379.92M453.62 372.70V383.68M455.34 374.31V377.75M456.20 370.76V377.81M457.06 371.63V372.84M458.78 371.13V373.38M460.50 371.35V377.36M463.94 376.17V379.95M464.80 377.35V378.13M466.52 378.99V380.38M467.38 378.63V380.57M468.24 377.70V379.67M469.96 378.04V380.60M473.40 381.44V382.83M475.12 381.73V383.02M476.84 379.72V384.00M477.70 379.87V381.51M479.42 376.71V381.42M482.00 379.27V382.84M484.58 384.96V386.94M485.44 383.08V386.32M487.16 381.55V389.06M488.88 383.96V389.07M489.74 382.12V385.91M491.46 381.78V385.33M493.18 380.03V387.02M494.90 377.67V383.29M495.76 378.90V381.28M496.62 379.08V380.88M497.48 378.61V379.59M500.92 379.12V381.68M503.50 380.12V382.05M506.08 381.67V383.22M507.80 377.52V384.52M510.38 377.39V382.19M512.96 378.65V380.98M513.82 377.47V379.44M514.68 376.25V378.09M517.26 373.51V383.62M518.12 374.41V378.03M518.98 369.33V375.67M520.70 367.90V373.10M522.42 366.58V373.65M525.86 370.93V379.46M526.72 372.06V375.15M527.58 370.10V373.09M528.44 365.82V371.50M529.30 368.79V371.25M531.02 368.00V372.17M534.46 367.33V376.74M536.18 367.12V371.17M537.90 368.69V370.01M538.76 366.98V370.66M541.34 368.42V369.77M542.20 367.39V369.29M544.78 362.44V372.10M545.64 361.10V365.63M546.50 356.29V365.42M547.36 353.19V358.38M548.22 354.15V356.86M549.08 350.05V354.45M550.80 349.29V357.13M554.24 354.98V358.84M555.10 353.69V356.86M556.82 353.09V356.46M557.68 354.30V355.12M559.40 353.78V357.81M561.12 351.09V356.88M561.98 350.45V351.62M563.70 348.57V352.95M564.56 349.78V353.22M565.42 347.58V351.58M566.28 345.17V350.53M567.14 345.56V348.60M568.86 347.21V350.98M570.58 349.96V352.64M571.44 343.78V351.56M573.16 340.04V346.00M574.02 337.56V342.19M574.88 330.00V338.76M575.74 329.78V332.64M576.60 326.87V331.09M577.46 324.84V328.11M579.18 319.66V327.26M580.04 317.74V321.10M582.62 321.01V325.50M585.20 320.25V326.03M586.06 318.00V321.09M586.92 316.62V321.43M587.78 311.03V322.80M588.64 309.87V314.94M589.50 307.84V315.18M592.94 311.11V316.88M593.80 305.95V312.43M594.66 302.93V306.83M595.52 298.78V305.54M596.38 293.88V300.11M597.24 291.29V295.15M598.96 291.21V294.99M599.82 287.44V293.88M602.40 294.82V300.50M603.26 290.00V297.91M605.84 293.07V297.98M606.70 288.05V296.03M607.56 286.62V291.70M608.42 283.83V287.70M611.86 291.91V295.60M612.72 292.04V295.88M614.44 288.90V292.75M617.02 290.40V292.65M618.74 291.49V292.74M623.90 296.75V301.53M624.76 294.62V299.78M625.62 295.38V297.65M626.48 294.18V297.28M627.34 293.37V295.75M628.20 293.06V295.01M629.92 293.43V296.46M630.78 291.71V296.08M631.64 291.39V293.32M632.50 288.87V293.20M633.36 286.58V290.63M635.94 287.80V293.35M636.80 287.22V291.00M637.66 284.05V289.80M638.52 280.33V288.42M639.38 280.76V282.76M641.96 281.58V286.24M642.82 281.74V284.99M643.68 279.41V283.64M644.54 279.18V283.66M645.40 278.31V280.54M647.98 284.34V290.35M652.28 294.76V298.13M654.60 287.01V289.53M655.46 285.69V287.92M656.32 285.45V287.45M658.04 286.54V289.16M662.34 290.78V292.86M664.92 291.16V294.27M665.78 290.43V292.71M666.64 289.53V292.00M667.50 288.89V291.42M668.36 288.72V289.66M669.22 287.36V289.15M50.50 297.00V303.00M135.50 292.00V309.50M179.30 269.80V276.00M213.90 270.00V278.00M254.50 313.80V325.00M265.60 326.60V342.00M291.40 326.00V337.60M368.70 333.60V340.00M441.00 385.00V393.50M574.80 326.60V340.00M655.10 282.90V289.00M71.40 288.50V301.60M145.40 283.00V297.00" stroke="#089981" stroke-width="0.55" fill="none"/>
<path d="M-0.43 282.57h0.86V283.00h-0.86zM0.43 282.17h0.86V282.57h-0.86zM3.87 280.58h0.86V283.91h-0.86zM5.59 283.85h0.86V284.65h-0.86zM8.17 287.31h0.86V289.62h-0.86zM9.89 287.05h0.86V287.79h-0.86zM14.19 296.53h0.86V296.91h-0.86zM15.91 293.36h0.86V297.35h-0.86zM18.49 296.46h0.86V297.37h-0.86zM27.09 312.91h0.86V314.48h-0.86zM27.95 312.51h0.86V312.91h-0.86zM28.81 310.74h0.86V312.51h-0.86zM29.67 309.93h0.86V310.74h-0.86zM30.53 309.16h0.86V309.93h-0.86zM33.97 310.47h0.86V311.13h-0.86zM36.55 309.75h0.86V311.88h-0.86zM37.41 309.35h0.86V309.75h-0.86zM39.13 309.05h0.86V309.75h-0.86zM41.71 307.46h0.86V309.85h-0.86zM42.57 307.05h0.86V307.46h-0.86zM44.29 305.33h0.86V307.55h-0.86zM45.15 302.60h0.86V305.33h-0.86zM46.87 303.53h0.86V304.21h-0.86zM47.73 302.37h0.86V303.53h-0.86zM48.59 301.97h0.86V302.37h-0.86zM50.31 301.50h0.86V302.37h-0.86zM51.17 301.10h0.86V301.50h-0.86zM52.89 305.20h0.86V306.10h-0.86zM56.33 308.58h0.86V309.07h-0.86zM57.19 307.37h0.86V308.58h-0.86zM58.05 306.45h0.86V307.37h-0.86zM58.91 303.17h0.86V306.45h-0.86zM59.77 302.09h0.86V303.17h-0.86zM60.63 301.39h0.86V302.09h-0.86zM61.49 299.50h0.86V301.39h-0.86zM64.93 302.96h0.86V304.50h-0.86zM70.77 293.47h0.86V296.00h-0.86zM71.63 293.09h0.86V293.47h-0.86zM72.49 292.02h0.86V293.09h-0.86zM73.35 291.66h0.86V292.02h-0.86zM74.21 288.41h0.86V291.66h-0.86zM75.93 288.32h0.86V290.68h-0.86zM78.51 288.55h0.86V289.95h-0.86zM81.09 289.82h0.86V290.22h-0.86zM81.95 289.06h0.86V289.82h-0.86zM85.39 291.63h0.86V293.78h-0.86zM86.25 290.81h0.86V291.63h-0.86zM87.11 289.23h0.86V290.81h-0.86zM87.97 287.31h0.86V289.23h-0.86zM89.69 288.39h0.86V290.36h-0.86zM90.55 287.38h0.86V288.39h-0.86zM91.41 285.04h0.86V287.38h-0.86zM95.71 291.71h0.86V298.64h-0.86zM97.43 294.84h0.86V298.04h-0.86zM98.29 293.07h0.86V294.84h-0.86zM99.15 291.81h0.86V293.07h-0.86zM100.87 291.38h0.86V292.21h-0.86zM101.73 289.37h0.86V291.38h-0.86zM105.17 287.66h0.86V292.56h-0.86zM106.89 288.89h0.86V292.69h-0.86zM107.75 288.00h0.86V288.89h-0.86zM110.33 291.53h0.86V291.93h-0.86zM111.19 290.35h0.86V291.53h-0.86zM113.77 291.50h0.86V293.36h-0.86zM115.49 289.58h0.86V291.90h-0.86zM117.21 288.97h0.86V289.98h-0.86zM118.07 288.57h0.86V288.97h-0.86zM118.93 287.16h0.86V288.57h-0.86zM121.51 285.86h0.86V287.96h-0.86zM123.23 286.81h0.86V287.30h-0.86zM124.95 287.72h0.86V288.52h-0.86zM127.53 292.38h0.86V293.48h-0.86zM128.39 291.69h0.86V292.38h-0.86zM130.11 291.88h0.86V293.13h-0.86zM131.83 289.91h0.86V292.28h-0.86zM133.55 289.91h0.86V290.31h-0.86zM135.27 294.98h0.86V296.40h-0.86zM136.99 292.97h0.86V297.65h-0.86zM139.57 294.89h0.86V297.54h-0.86zM141.29 294.99h0.86V295.79h-0.86zM142.15 294.59h0.86V294.99h-0.86zM143.01 294.19h0.86V294.59h-0.86zM143.87 290.33h0.86V294.19h-0.86zM144.73 288.06h0.86V290.33h-0.86zM145.59 286.00h0.86V288.06h-0.86zM146.45 285.40h0.86V286.00h-0.86zM148.17 284.71h0.86V285.78h-0.86zM149.89 283.62h0.86V285.68h-0.86zM151.61 282.33h0.86V285.47h-0.86zM152.47 281.93h0.86V282.33h-0.86zM153.33 281.53h0.86V281.93h-0.86zM155.05 281.74h0.86V282.50h-0.86zM155.91 279.72h0.86V281.74h-0.86zM157.63 280.87h0.86V281.87h-0.86zM159.35 280.99h0.86V282.30h-0.86zM160.21 280.02h0.86V280.99h-0.86zM161.93 279.61h0.86V281.42h-0.86zM163.65 280.33h0.86V280.73h-0.86zM167.09 278.87h0.86V282.27h-0.86zM167.95 278.10h0.86V278.87h-0.86zM168.81 276.39h0.86V278.10h-0.86zM170.53 275.29h0.86V277.16h-0.86zM172.25 275.09h0.86V275.70h-0.86zM173.11 274.51h0.86V275.09h-0.86zM173.97 273.96h0.86V274.51h-0.86zM176.55 277.96h0.86V281.33h-0.86zM177.41 273.82h0.86V277.96h-0.86zM178.27 271.22h0.86V273.82h-0.86zM179.99 271.43h0.86V271.83h-0.86zM181.71 272.79h0.86V274.57h-0.86zM184.29 276.60h0.86V277.00h-0.86zM192.03 285.84h0.86V286.96h-0.86zM192.89 285.31h0.86V285.84h-0.86zM196.33 284.74h0.86V286.77h-0.86zM197.19 281.81h0.86V284.74h-0.86zM198.91 281.98h0.86V282.38h-0.86zM199.77 278.03h0.86V281.98h-0.86zM201.49 274.33h0.86V278.60h-0.86zM203.21 275.69h0.86V278.23h-0.86zM204.07 273.64h0.86V275.69h-0.86zM204.93 273.27h0.86V273.64h-0.86zM210.09 279.80h0.86V280.53h-0.86zM211.81 279.05h0.86V280.22h-0.86zM212.67 275.02h0.86V279.05h-0.86zM216.11 278.60h0.86V279.82h-0.86zM221.27 297.44h0.86V298.71h-0.86zM222.13 295.51h0.86V297.44h-0.86zM223.85 295.48h0.86V296.90h-0.86zM224.71 294.61h0.86V295.48h-0.86zM227.29 294.69h0.86V296.20h-0.86zM228.15 293.44h0.86V294.69h-0.86zM229.87 294.75h0.86V295.15h-0.86zM230.73 291.42h0.86V294.75h-0.86zM231.59 291.05h0.86V291.42h-0.86zM233.31 293.64h0.86V294.04h-0.86zM235.03 293.16h0.86V294.14h-0.86zM237.61 296.32h0.86V297.25h-0.86zM241.05 300.52h0.86V301.16h-0.86zM241.91 298.71h0.86V300.52h-0.86zM242.77 298.24h0.86V298.71h-0.86zM244.49 297.33h0.86V298.86h-0.86zM253.09 320.67h0.86V323.87h-0.86zM253.95 319.82h0.86V320.67h-0.86zM258.25 343.87h0.86V344.28h-0.86zM259.11 343.44h0.86V343.87h-0.86zM259.97 342.42h0.86V343.44h-0.86zM261.69 341.29h0.86V344.41h-0.86zM265.83 334.77h0.86V340.83h-0.86zM266.69 333.58h0.86V334.77h-0.86zM267.55 331.28h0.86V333.58h-0.86zM268.41 330.03h0.86V331.28h-0.86zM269.27 329.51h0.86V330.03h-0.86zM270.13 328.06h0.86V329.51h-0.86zM270.99 325.68h0.86V328.06h-0.86zM271.85 322.53h0.86V325.68h-0.86zM276.15 327.35h0.86V329.80h-0.86zM277.01 323.89h0.86V327.35h-0.86zM278.73 326.45h0.86V326.97h-0.86zM279.59 323.61h0.86V326.45h-0.86zM281.31 325.97h0.86V326.83h-0.86zM283.03 324.91h0.86V327.07h-0.86zM283.89 324.18h0.86V324.91h-0.86zM284.75 323.71h0.86V324.18h-0.86zM285.61 321.82h0.86V323.71h-0.86zM291.63 330.40h0.86V332.08h-0.86zM292.49 328.07h0.86V330.40h-0.86zM293.35 326.52h0.86V328.07h-0.86zM295.07 328.09h0.86V329.78h-0.86zM298.51 332.72h0.86V333.77h-0.86zM299.37 328.33h0.86V332.72h-0.86zM301.09 330.32h0.86V331.75h-0.86zM303.67 329.82h0.86V332.20h-0.86zM304.53 329.25h0.86V329.82h-0.86zM305.39 328.85h0.86V329.25h-0.86zM306.25 328.46h0.86V328.85h-0.86zM307.11 327.83h0.86V328.46h-0.86zM307.97 327.43h0.86V327.83h-0.86zM310.55 327.74h0.86V328.36h-0.86zM312.27 328.27h0.86V329.21h-0.86zM313.13 327.87h0.86V328.27h-0.86zM318.29 336.15h0.86V336.55h-0.86zM325.17 355.55h0.86V356.01h-0.86zM326.03 355.15h0.86V355.55h-0.86zM328.61 357.15h0.86V357.68h-0.86zM329.47 355.40h0.86V357.15h-0.86zM330.33 350.00h0.86V355.40h-0.86zM332.91 353.48h0.86V353.88h-0.86zM334.63 352.71h0.86V354.97h-0.86zM335.49 349.00h0.86V352.71h-0.86zM336.35 344.45h0.86V349.00h-0.86zM337.21 344.05h0.86V344.45h-0.86zM339.79 344.46h0.86V348.12h-0.86zM342.37 348.40h0.86V349.37h-0.86zM343.23 347.64h0.86V348.40h-0.86zM344.09 347.22h0.86V347.64h-0.86zM345.81 347.22h0.86V347.62h-0.86zM348.39 348.51h0.86V349.67h-0.86zM349.25 348.11h0.86V348.51h-0.86zM350.97 347.77h0.86V348.51h-0.86zM351.83 347.37h0.86V347.77h-0.86zM353.55 348.85h0.86V349.63h-0.86zM354.41 346.57h0.86V348.85h-0.86zM356.13 347.48h0.86V347.90h-0.86zM357.85 348.26h0.86V348.65h-0.86zM358.71 347.86h0.86V348.26h-0.86zM359.57 346.83h0.86V347.86h-0.86zM361.29 346.83h0.86V347.23h-0.86zM362.15 345.66h0.86V346.83h-0.86zM363.01 345.26h0.86V345.66h-0.86zM363.87 344.52h0.86V345.26h-0.86zM365.59 343.85h0.86V346.19h-0.86zM366.45 339.55h0.86V343.85h-0.86zM367.31 338.19h0.86V339.55h-0.86zM368.17 337.51h0.86V338.19h-0.86zM372.47 347.30h0.86V349.47h-0.86zM375.05 353.79h0.86V354.28h-0.86zM375.91 350.71h0.86V353.79h-0.86zM377.63 350.55h0.86V351.11h-0.86zM378.49 349.31h0.86V350.55h-0.86zM380.21 347.97h0.86V349.99h-0.86zM381.07 346.46h0.86V347.97h-0.86zM382.79 344.65h0.86V347.00h-0.86zM383.65 343.67h0.86V344.65h-0.86zM385.37 343.80h0.86V344.88h-0.86zM387.09 343.70h0.86V346.19h-0.86zM389.67 345.71h0.86V347.59h-0.86zM391.39 345.31h0.86V346.92h-0.86zM393.11 343.98h0.86V346.32h-0.86zM394.83 345.90h0.86V347.04h-0.86zM395.69 343.34h0.86V345.90h-0.86zM396.55 342.94h0.86V343.34h-0.86zM397.41 341.85h0.86V342.94h-0.86zM400.85 345.51h0.86V346.52h-0.86zM402.57 348.40h0.86V348.80h-0.86zM403.43 347.67h0.86V348.40h-0.86zM404.29 346.55h0.86V347.67h-0.86zM406.87 347.82h0.86V348.22h-0.86zM408.59 349.37h0.86V349.77h-0.86zM410.31 351.23h0.86V352.41h-0.86zM417.19 367.75h0.86V369.35h-0.86zM418.05 367.35h0.86V367.75h-0.86zM419.77 367.78h0.86V368.18h-0.86zM423.09 377.34h0.86V379.15h-0.86zM423.95 376.68h0.86V377.34h-0.86zM429.11 383.58h0.86V384.91h-0.86zM429.97 380.73h0.86V383.58h-0.86zM430.83 380.10h0.86V380.73h-0.86zM431.69 379.70h0.86V380.10h-0.86zM434.27 381.57h0.86V381.98h-0.86zM439.43 388.79h0.86V389.19h-0.86zM441.15 386.30h0.86V390.87h-0.86zM442.87 379.95h0.86V387.18h-0.86zM444.59 377.28h0.86V381.39h-0.86zM445.45 376.83h0.86V377.28h-0.86zM446.31 374.60h0.86V376.83h-0.86zM448.03 376.55h0.86V377.87h-0.86zM449.75 376.72h0.86V378.66h-0.86zM451.47 376.48h0.86V379.37h-0.86zM453.19 376.17h0.86V380.96h-0.86zM454.91 375.50h0.86V376.74h-0.86zM455.77 372.75h0.86V375.50h-0.86zM456.63 371.65h0.86V372.75h-0.86zM458.35 371.48h0.86V373.07h-0.86zM460.07 371.82h0.86V374.27h-0.86zM463.51 378.06h0.86V378.45h-0.86zM464.37 377.58h0.86V378.06h-0.86zM466.09 379.85h0.86V380.25h-0.86zM466.95 379.45h0.86V379.85h-0.86zM467.81 377.87h0.86V379.45h-0.86zM469.53 378.92h0.86V379.71h-0.86zM472.97 381.91h0.86V382.65h-0.86zM474.69 382.50h0.86V382.90h-0.86zM476.41 381.37h0.86V383.33h-0.86zM477.27 380.46h0.86V381.37h-0.86zM478.99 378.81h0.86V380.86h-0.86zM481.57 380.12h0.86V380.69h-0.86zM484.15 386.08h0.86V386.66h-0.86zM485.01 385.68h0.86V386.08h-0.86zM486.73 385.03h0.86V388.27h-0.86zM488.45 385.10h0.86V386.95h-0.86zM489.31 383.16h0.86V385.10h-0.86zM491.03 383.18h0.86V383.56h-0.86zM492.75 380.67h0.86V383.58h-0.86zM494.47 380.50h0.86V381.32h-0.86zM495.33 379.96h0.86V380.50h-0.86zM496.19 379.53h0.86V379.96h-0.86zM497.05 378.97h0.86V379.53h-0.86zM500.49 379.59h0.86V380.89h-0.86zM503.07 380.37h0.86V381.05h-0.86zM505.65 381.85h0.86V382.75h-0.86zM507.37 379.92h0.86V382.90h-0.86zM509.95 379.22h0.86V381.40h-0.86zM512.53 378.84h0.86V380.17h-0.86zM513.39 377.56h0.86V378.84h-0.86zM514.25 377.16h0.86V377.56h-0.86zM516.83 375.91h0.86V379.94h-0.86zM517.69 374.42h0.86V375.91h-0.86zM518.55 370.53h0.86V374.42h-0.86zM520.27 369.94h0.86V370.96h-0.86zM521.99 369.11h0.86V371.26h-0.86zM525.43 373.62h0.86V379.23h-0.86zM526.29 372.16h0.86V373.62h-0.86zM527.15 370.53h0.86V372.16h-0.86zM528.01 369.88h0.86V370.53h-0.86zM528.87 369.25h0.86V369.88h-0.86zM530.59 368.30h0.86V371.19h-0.86zM534.03 369.06h0.86V374.45h-0.86zM535.75 367.84h0.86V370.57h-0.86zM537.47 369.05h0.86V369.45h-0.86zM538.33 367.81h0.86V369.05h-0.86zM540.91 368.42h0.86V368.82h-0.86zM541.77 368.02h0.86V368.42h-0.86zM544.35 363.53h0.86V370.89h-0.86zM545.21 363.17h0.86V363.53h-0.86zM546.07 356.52h0.86V363.17h-0.86zM546.93 355.04h0.86V356.52h-0.86zM547.79 354.16h0.86V355.04h-0.86zM548.65 351.54h0.86V354.16h-0.86zM550.37 351.38h0.86V355.94h-0.86zM553.81 355.62h0.86V356.09h-0.86zM554.67 355.19h0.86V355.62h-0.86zM556.39 355.06h0.86V355.85h-0.86zM557.25 354.55h0.86V355.06h-0.86zM558.97 353.90h0.86V356.02h-0.86zM560.69 351.15h0.86V355.63h-0.86zM561.55 350.75h0.86V351.15h-0.86zM563.27 350.84h0.86V352.05h-0.86zM564.13 350.46h0.86V350.84h-0.86zM564.99 348.35h0.86V350.46h-0.86zM565.85 346.97h0.86V348.35h-0.86zM566.71 346.34h0.86V346.97h-0.86zM568.43 347.72h0.86V348.68h-0.86zM570.15 350.16h0.86V350.66h-0.86zM571.01 343.83h0.86V350.16h-0.86zM572.73 340.96h0.86V344.42h-0.86zM573.59 337.77h0.86V340.96h-0.86zM574.45 331.21h0.86V337.77h-0.86zM575.31 330.81h0.86V331.21h-0.86zM576.17 327.20h0.86V330.81h-0.86zM577.03 326.60h0.86V327.20h-0.86zM578.75 320.64h0.86V327.00h-0.86zM579.61 319.21h0.86V320.64h-0.86zM582.19 322.81h0.86V325.30h-0.86zM584.77 320.36h0.86V324.96h-0.86zM585.63 319.82h0.86V320.36h-0.86zM586.49 319.28h0.86V319.82h-0.86zM587.35 314.57h0.86V319.28h-0.86zM588.21 311.40h0.86V314.57h-0.86zM589.07 309.57h0.86V311.40h-0.86zM592.51 311.56h0.86V315.14h-0.86zM593.37 305.98h0.86V311.56h-0.86zM594.23 304.04h0.86V305.98h-0.86zM595.09 298.86h0.86V304.04h-0.86zM595.95 294.18h0.86V298.86h-0.86zM596.81 291.42h0.86V294.18h-0.86zM598.53 292.87h0.86V293.87h-0.86zM599.39 292.47h0.86V292.87h-0.86zM601.97 297.17h0.86V299.15h-0.86zM602.83 290.28h0.86V297.17h-0.86zM605.41 294.08h0.86V295.59h-0.86zM606.27 289.45h0.86V294.08h-0.86zM607.13 287.10h0.86V289.45h-0.86zM607.99 286.12h0.86V287.10h-0.86zM611.43 294.41h0.86V294.96h-0.86zM612.29 292.32h0.86V294.41h-0.86zM614.01 289.11h0.86V292.72h-0.86zM616.59 291.56h0.86V292.40h-0.86zM618.31 291.52h0.86V291.96h-0.86zM623.47 298.92h0.86V299.41h-0.86zM624.33 297.47h0.86V298.92h-0.86zM625.19 295.99h0.86V297.47h-0.86zM626.05 295.08h0.86V295.99h-0.86zM626.91 293.98h0.86V295.08h-0.86zM627.77 293.58h0.86V293.98h-0.86zM629.49 294.60h0.86V295.61h-0.86zM630.35 292.30h0.86V294.60h-0.86zM631.21 291.90h0.86V292.30h-0.86zM632.07 290.46h0.86V291.90h-0.86zM632.93 288.03h0.86V290.46h-0.86zM635.51 290.13h0.86V291.85h-0.86zM636.37 289.36h0.86V290.13h-0.86zM637.23 286.42h0.86V289.36h-0.86zM638.09 281.61h0.86V286.42h-0.86zM638.95 281.14h0.86V281.61h-0.86zM641.53 284.09h0.86V285.80h-0.86zM642.39 282.30h0.86V284.09h-0.86zM643.25 280.89h0.86V282.30h-0.86zM644.11 280.49h0.86V280.89h-0.86zM644.97 279.39h0.86V280.49h-0.86zM647.55 287.37h0.86V289.51h-0.86zM651.85 295.44h0.86V296.55h-0.86zM654.17 287.60h0.86V288.00h-0.86zM655.03 286.93h0.86V287.60h-0.86zM655.89 286.53h0.86V286.93h-0.86zM657.61 287.07h0.86V287.43h-0.86zM661.91 292.22h0.86V292.81h-0.86zM664.49 291.99h0.86V293.92h-0.86zM665.35 291.59h0.86V291.99h-0.86zM666.21 291.19h0.86V291.59h-0.86zM667.07 289.32h0.86V291.19h-0.86zM667.93 288.82h0.86V289.32h-0.86zM668.79 288.01h0.86V288.82h-0.86z" fill="#089981"/>
<line x1="0" y1="269.6" x2="598.2" y2="382.24" stroke="#2962ff" stroke-width="1.1" stroke-dasharray="3.3 3.77" stroke-dashoffset="-1.85" stroke-opacity="0.62"/>
<line x1="0" y1="229.1" x2="598.2" y2="341.74" stroke="#2962ff" stroke-width="1.45"/>
<line x1="0" y1="309.6" x2="598.2" y2="422.24" stroke="#2962ff" stroke-width="1.45"/>
<rect x="603.4" y="282.2" width="90.2" height="16.4" fill="none" stroke="#f23645" stroke-width="1.4"/>
<line x1="0" y1="269.3" x2="904.5" y2="269.3" stroke="#0c0e15" stroke-width="1.3"/>
<line x1="518.4" y1="367.6" x2="611" y2="273.1" stroke="#000" stroke-width="1.35" stroke-linecap="round"/>
<line x1="524.7" y1="390" x2="645.9" y2="299.2" stroke="#000" stroke-width="1.35" stroke-linecap="round"/>
<g stroke="#2962ff" stroke-width="1.4" fill="none" stroke-linecap="round" stroke-linejoin="round">
<path d="M684 260.9L703.9 221.7M694.7 225.1L703.9 221.7L706.5 231.4"/>
<path d="M671.7 290.4L680.9 271.4L689.2 281M690.5 272.7L689.2 281L680.4 280"/>
<path d="M673 295.6L696 332.2M698.6 322.8L696 332.2L687.4 330.1"/>
</g>
<circle cx="748.2" cy="252.7" r="6.7" fill="#d5e8d7" stroke="#388e3c" stroke-width="1.4"/>
<circle cx="746.2" cy="280.2" r="6.7" fill="#fcd6da" stroke="#f23645" stroke-width="1.4"/>
<line x1="0" y1="509.3" x2="937.5" y2="509.3" stroke="#ededee" stroke-width="1"/>
<line x1="937.5" y1="0" x2="937.5" y2="509.3" stroke="#ededee" stroke-width="1"/>
<g transform="translate(669.9,483.4)"><circle r="6.3" fill="#fff" stroke="#ab47bc" stroke-width="1.3"/><path d="M1.6 -4.2L-3 0.7H-0.3L-1.6 4.2L3 -0.7H0.3Z" fill="#9c27b0"/></g>
<g transform="translate(679.2,483.4)"><circle r="6.6" fill="#fff" stroke="#f23645" stroke-width="1.5"/><clipPath id="c6792"><circle r="4.9"/></clipPath><g clip-path="url(#c6792)"><rect x="-6" y="-6" width="12" height="12" fill="#fff"/><rect x="-6" y="-4.1" width="12" height="1.1" fill="#f23645"/><rect x="-6" y="-0.9" width="12" height="1.8" fill="#f23645"/><rect x="-6" y="2.8" width="12" height="1.7" fill="#f23645"/><rect x="-6" y="-6" width="6.9" height="8.2" fill="#42a5f5"/></g></g>
<g transform="translate(766.7,483.4)"><circle r="6.6" fill="#fff" stroke="#f23645" stroke-width="1.5"/><clipPath id="c7667"><circle r="4.9"/></clipPath><g clip-path="url(#c7667)"><rect x="-6" y="-6" width="12" height="12" fill="#fff"/><rect x="-6" y="-4.1" width="12" height="1.1" fill="#f23645"/><rect x="-6" y="-0.9" width="12" height="1.8" fill="#f23645"/><rect x="-6" y="2.8" width="12" height="1.7" fill="#f23645"/><rect x="-6" y="-6" width="6.9" height="8.2" fill="#42a5f5"/></g></g>
<g transform="translate(795.8,483.4)"><circle r="6.6" fill="#fff" stroke="#f23645" stroke-width="1.5"/><clipPath id="c7958"><circle r="4.9"/></clipPath><g clip-path="url(#c7958)"><rect x="-6" y="-6" width="12" height="12" fill="#fff"/><rect x="-6" y="-4.1" width="12" height="1.1" fill="#f23645"/><rect x="-6" y="-0.9" width="12" height="1.8" fill="#f23645"/><rect x="-6" y="2.8" width="12" height="1.7" fill="#f23645"/><rect x="-6" y="-6" width="6.9" height="8.2" fill="#42a5f5"/></g></g>
<g transform="translate(834.7,483.4)"><circle r="6.6" fill="#fff" stroke="#f23645" stroke-width="1.5"/><clipPath id="c8347"><circle r="4.9"/></clipPath><g clip-path="url(#c8347)"><rect x="-6" y="-6" width="12" height="12" fill="#fff"/><rect x="-6" y="-4.1" width="12" height="1.1" fill="#f23645"/><rect x="-6" y="-0.9" width="12" height="1.8" fill="#f23645"/><rect x="-6" y="2.8" width="12" height="1.7" fill="#f23645"/><rect x="-6" y="-6" width="6.9" height="8.2" fill="#42a5f5"/></g></g>
</svg>
<div class="t" style="font-size:9.3px;color:#131722;transform:translate(909.80px,466.36px) scaleX(0.826);-webkit-text-stroke:0.25px #131722;">52.00</div>
<div class="t" style="font-size:9.3px;color:#131722;transform:translate(909.80px,429.46px) scaleX(0.826);-webkit-text-stroke:0.25px #131722;">54.00</div>
<div class="t" style="font-size:9.3px;color:#131722;transform:translate(909.80px,392.56px) scaleX(0.826);-webkit-text-stroke:0.25px #131722;">56.00</div>
<div class="t" style="font-size:9.3px;color:#131722;transform:translate(909.80px,355.66px) scaleX(0.826);-webkit-text-stroke:0.25px #131722;">58.00</div>
<div class="t" style="font-size:9.3px;color:#131722;transform:translate(909.80px,318.76px) scaleX(0.826);-webkit-text-stroke:0.25px #131722;">60.00</div>
<div class="t" style="font-size:9.3px;color:#131722;transform:translate(909.80px,281.86px) scaleX(0.826);-webkit-text-stroke:0.25px #131722;">62.00</div>
<div class="t" style="font-size:9.3px;color:#131722;transform:translate(909.80px,244.96px) scaleX(0.826);-webkit-text-stroke:0.25px #131722;">64.00</div>
<div class="t" style="font-size:9.3px;color:#131722;transform:translate(909.80px,208.06px) scaleX(0.826);-webkit-text-stroke:0.25px #131722;">66.00</div>
<div class="t" style="font-size:9.3px;color:#131722;transform:translate(909.80px,171.16px) scaleX(0.826);-webkit-text-stroke:0.25px #131722;">68.00</div>
<div class="t" style="font-size:9.3px;color:#131722;transform:translate(909.80px,134.26px) scaleX(0.826);-webkit-text-stroke:0.25px #131722;">70.00</div>
<div class="t" style="font-size:9.3px;color:#131722;transform:translate(909.80px,97.36px) scaleX(0.826);-webkit-text-stroke:0.25px #131722;">72.00</div>
<div class="t" style="font-size:9.3px;color:#131722;transform:translate(909.80px,60.46px) scaleX(0.826);-webkit-text-stroke:0.25px #131722;">74.00</div>
<div class="t" style="font-size:9.3px;color:#131722;transform:translate(909.80px,23.56px) scaleX(0.826);-webkit-text-stroke:0.25px #131722;">76.00</div>
<div class="t" style="font-size:9.0px;color:#131722;transform:translate(30.30px,496.20px) scaleX(0.800);-webkit-text-stroke:0.25px #131722;">3</div>
<div class="t" style="font-size:9.0px;color:#131722;transform:translate(69.21px,496.20px) scaleX(0.800);-webkit-text-stroke:0.25px #131722;">6</div>
<div class="t" style="font-size:9.0px;color:#131722;transform:translate(108.12px,496.20px) scaleX(0.800);-webkit-text-stroke:0.25px #131722;">7</div>
<div class="t" style="font-size:9.0px;color:#131722;transform:translate(147.03px,496.20px) scaleX(0.800);-webkit-text-stroke:0.25px #131722;">8</div>
<div class="t" style="font-size:9.0px;color:#131722;transform:translate(185.94px,496.20px) scaleX(0.800);-webkit-text-stroke:0.25px #131722;">9</div>
<div class="t" style="font-size:9.0px;color:#131722;transform:translate(222.85px,496.20px) scaleX(0.800);-webkit-text-stroke:0.25px #131722;">10</div>
<div class="t" style="font-size:9.0px;color:#131722;transform:translate(261.76px,496.20px) scaleX(0.800);-webkit-text-stroke:0.25px #131722;">13</div>
<div class="t" style="font-size:9.0px;color:#131722;transform:translate(300.67px,496.20px) scaleX(0.800);-webkit-text-stroke:0.25px #131722;">14</div>
<div class="t" style="font-size:9.0px;color:#131722;transform:translate(339.58px,496.20px) scaleX(0.800);-webkit-text-stroke:0.25px #131722;">15</div>
<div class="t" style="font-size:9.0px;color:#131722;transform:translate(378.49px,496.20px) scaleX(0.800);-webkit-text-stroke:0.25px #131722;">16</div>
<div class="t" style="font-size:9.0px;color:#131722;transform:translate(417.40px,496.20px) scaleX(0.800);-webkit-text-stroke:0.25px #131722;">17</div>
<div class="t" style="font-size:9.0px;color:#131722;transform:translate(456.31px,496.20px) scaleX(0.800);-webkit-text-stroke:0.25px #131722;">20</div>
<div class="t" style="font-size:9.0px;color:#131722;transform:translate(495.22px,496.20px) scaleX(0.800);-webkit-text-stroke:0.25px #131722;">21</div>
<div class="t" style="font-size:9.0px;color:#131722;transform:translate(534.13px,496.20px) scaleX(0.800);-webkit-text-stroke:0.25px #131722;">22</div>
<div class="t" style="font-size:9.0px;color:#131722;transform:translate(573.04px,496.20px) scaleX(0.800);-webkit-text-stroke:0.25px #131722;">23</div>
<div class="t" style="font-size:9.0px;color:#131722;transform:translate(611.95px,496.20px) scaleX(0.800);-webkit-text-stroke:0.25px #131722;">24</div>
<div class="t" style="font-size:9.0px;color:#131722;transform:translate(650.86px,496.20px) scaleX(0.800);-webkit-text-stroke:0.25px #131722;">27</div>
<div class="t" style="font-size:9.0px;color:#131722;transform:translate(689.77px,496.20px) scaleX(0.800);-webkit-text-stroke:0.25px #131722;">28</div>
<div class="t" style="font-size:9.0px;color:#131722;transform:translate(728.68px,496.20px) scaleX(0.800);-webkit-text-stroke:0.25px #131722;">29</div>
<div class="t" style="font-size:9.0px;color:#131722;transform:translate(767.59px,496.20px) scaleX(0.800);-webkit-text-stroke:0.25px #131722;">30</div>
<div class="t" style="font-size:9.0px;color:#131722;transform:translate(806.50px,496.20px) scaleX(0.800);-webkit-text-stroke:0.25px #131722;">31</div>
<div class="t" style="font-size:9.0px;font-weight:bold;color:#131722;transform:translate(842.70px,496.20px) scaleX(0.776);">Nov</div>
<div class="t" style="font-size:9.0px;color:#131722;transform:translate(884.90px,496.20px) scaleX(0.800);-webkit-text-stroke:0.25px #131722;">4</div>
<div class="t" style="font-size:10.6px;font-weight:bold;color:#9c27b0;transform:translate(447.70px,5.83px) scaleX(0.925);">resistance</div>
<div class="t" style="font-size:10.6px;font-weight:bold;color:#9c27b0;transform:translate(509.20px,450.83px) scaleX(0.925);">support</div>
<div class="box" style="left:906.1px;top:-2px;width:26.4px;height:15.7px;border:1px solid #eceef1;border-radius:3px;background:#fff"></div>
<div class="t" style="font-size:9.3px;color:#131722;transform:translate(912.80px,4.56px) scaleX(0.707);-webkit-text-stroke:0.25px #131722;">BLL</div>
<div class="box" style="left:904.8px;top:264.3px;width:27.6px;height:10.4px;background:#000"></div>
<div class="t" style="font-size:9.3px;color:#fff;transform:translate(910.00px,265.36px) scaleX(0.817);-webkit-text-stroke:0.3px #fff;">62.90</div>
<div class="box" style="left:878.4px;top:285.4px;width:25.6px;height:10.4px;background:#089981"></div>
<div class="t" style="font-size:9.3px;color:#fff;transform:translate(881.80px,286.66px) scaleX(0.688);-webkit-text-stroke:0.3px #fff;">USOIL</div>
<div class="box" style="left:904.8px;top:285.4px;width:27.6px;height:19.4px;background:#089981"></div>
<div class="t" style="font-size:9.3px;color:#fff;transform:translate(910.00px,286.86px) scaleX(0.817);-webkit-text-stroke:0.3px #fff;">61.75</div>
<div class="t" style="font-size:9.3px;color:#fff;transform:translate(910.20px,295.86px) scaleX(0.809);opacity:.9;-webkit-text-stroke:0.3px #fff;">25:26</div>
</body></html>
